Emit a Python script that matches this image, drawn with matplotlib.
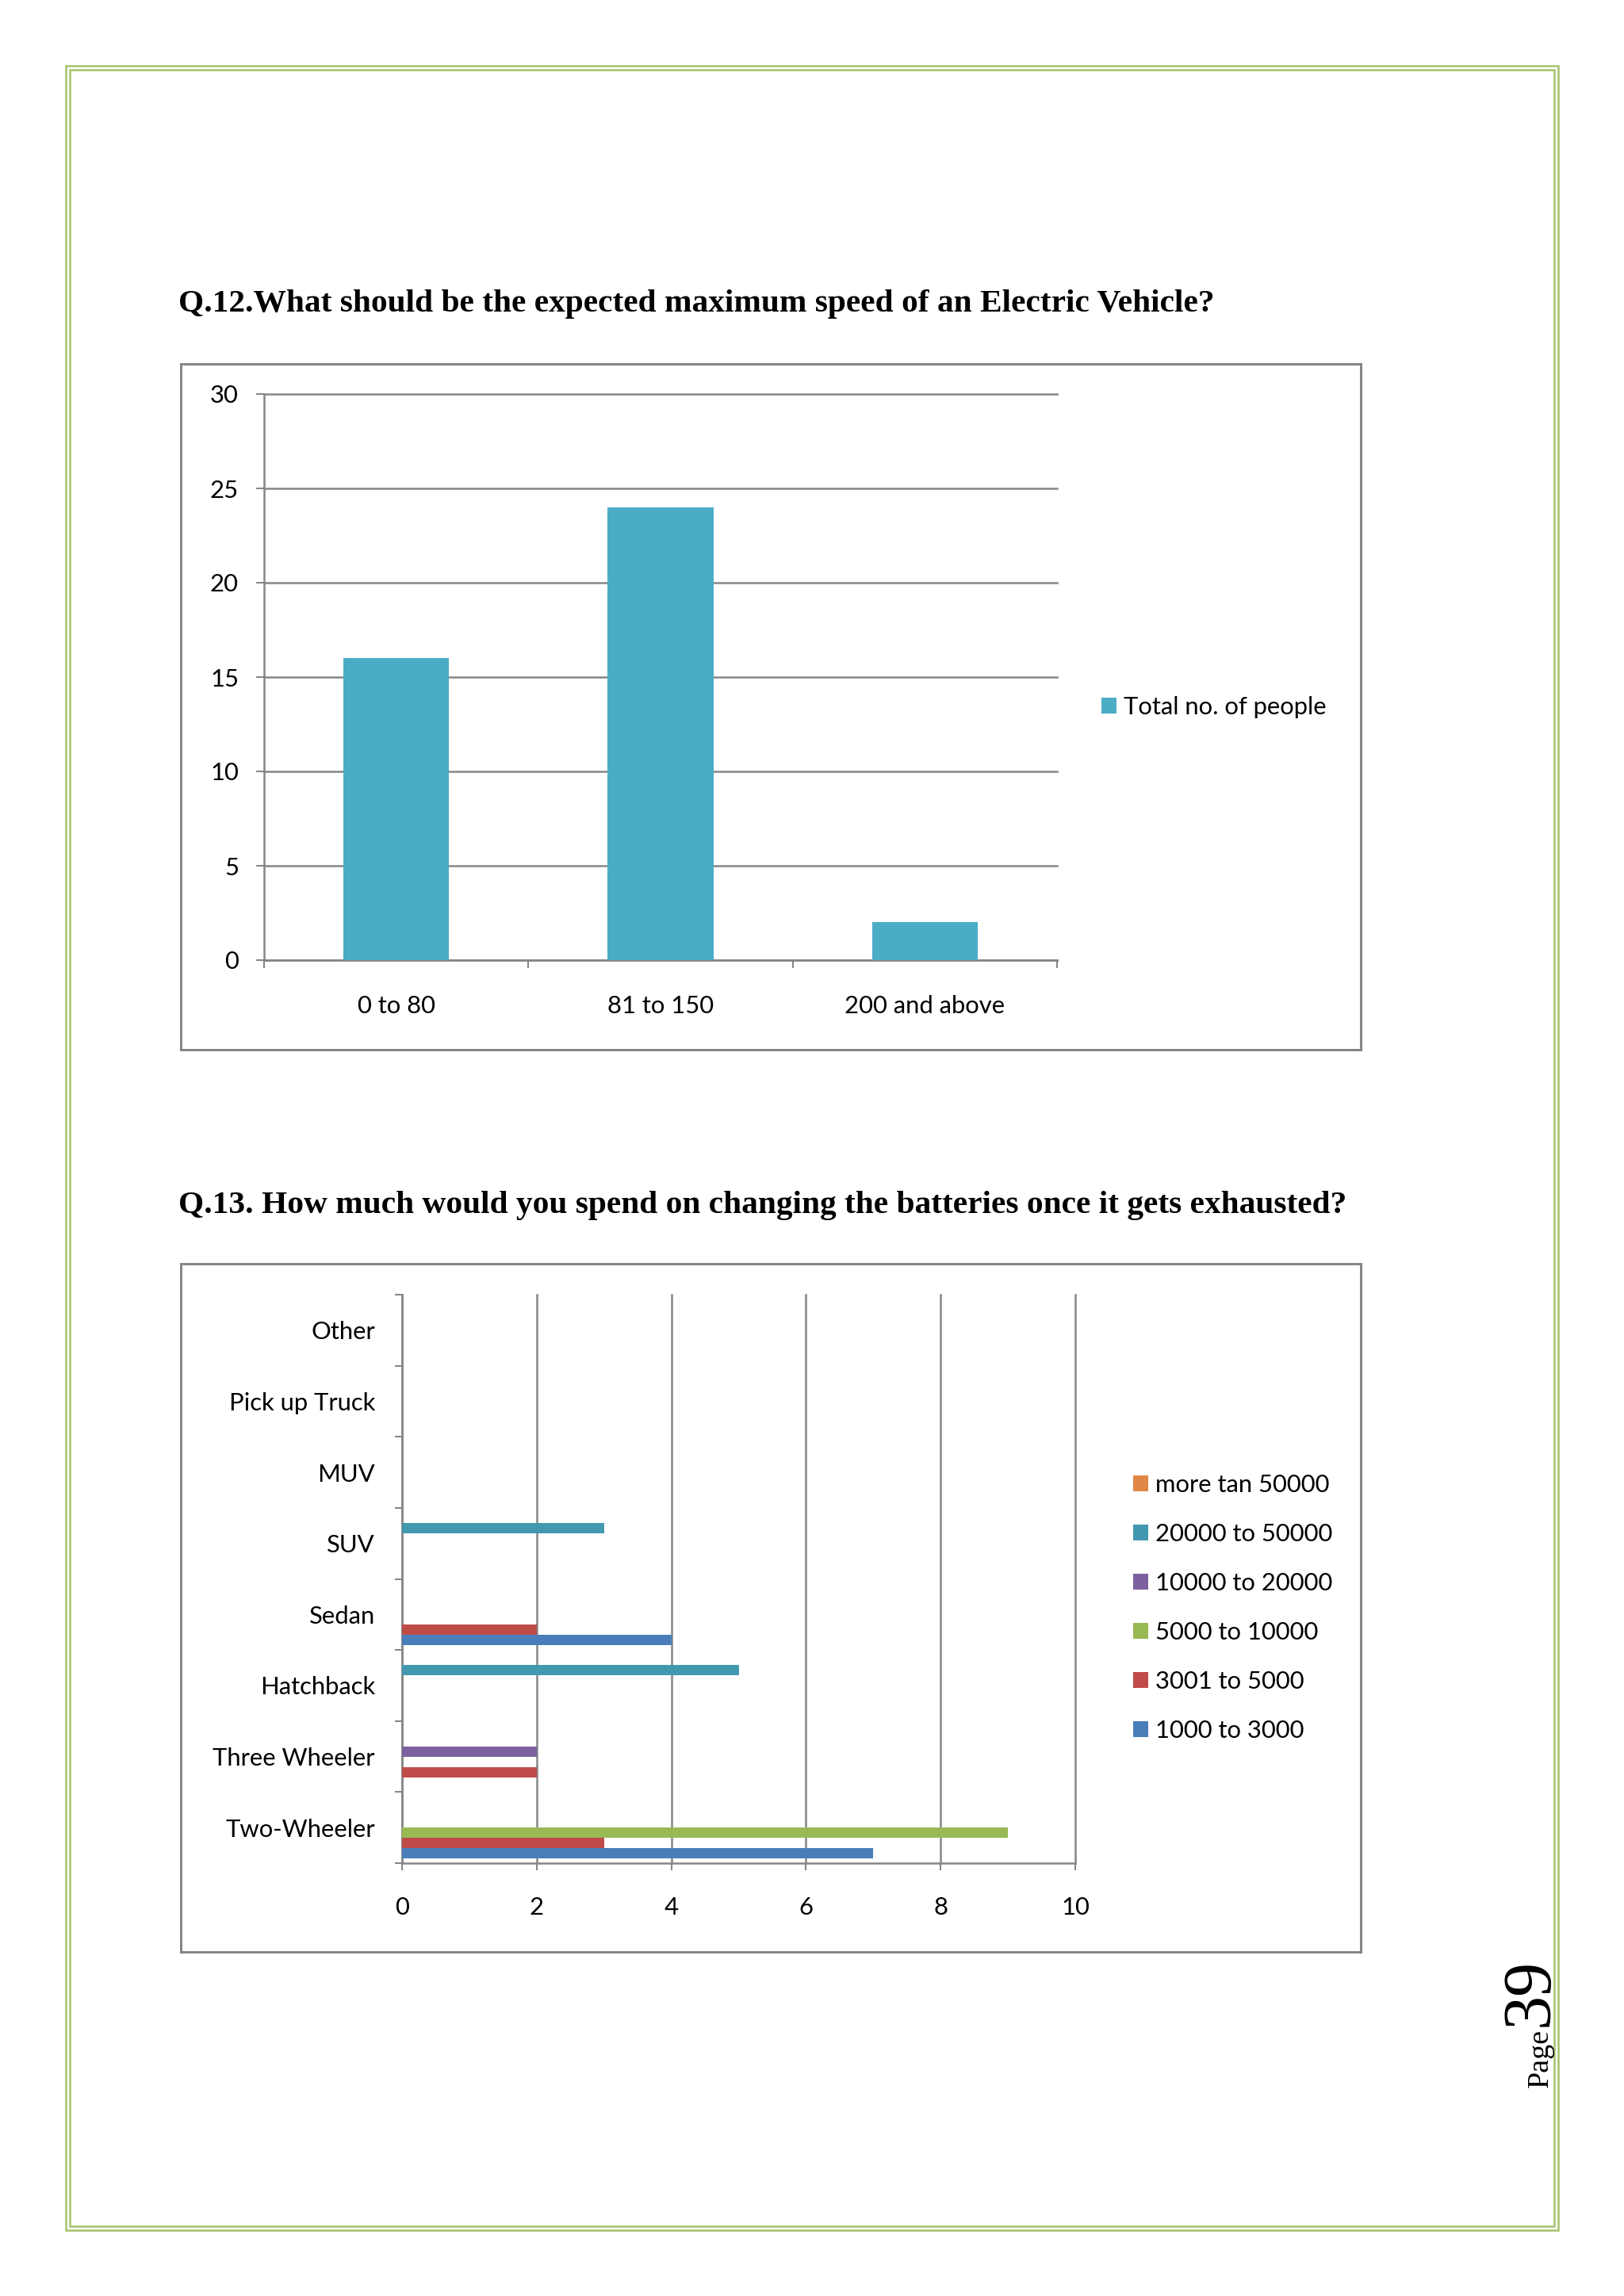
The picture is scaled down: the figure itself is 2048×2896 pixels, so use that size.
import matplotlib
matplotlib.use("Agg")
import matplotlib.pyplot as plt
from matplotlib.patches import Rectangle
import numpy as np

W, H = 2048, 2896
DPI = 100

# Q.12 data
speed_labels = ["0 to 80", "81 to 150", "200 and above"]
speed_counts = [16, 24, 2]
speed_series = "Total no. of people"

# Q.13 data (categories bottom to top, as in the chart)
vehicle_types = ["Two-Wheeler", "Three Wheeler", "Hatchback", "Sedan",
                 "SUV", "MUV", "Pick up Truck", "Other"]
spend_ranges = ["1000 to 3000", "3001 to 5000", "5000 to 10000",
                "10000 to 20000", "20000 to 50000", "more tan 50000"]
spend_1000_3000 = [7, 0, 0, 4, 0, 0, 0, 0]
spend_3001_5000 = [3, 2, 0, 2, 0, 0, 0, 0]
spend_5000_10000 = [9, 0, 0, 0, 0, 0, 0, 0]
spend_10000_20000 = [0, 2, 0, 0, 0, 0, 0, 0]
spend_20000_50000 = [0, 0, 5, 0, 3, 0, 0, 0]
spend_over_50000 = [0, 0, 0, 0, 0, 0, 0, 0]

SANS = "Lato"
SERIF = "Liberation Serif"
GRAY = "#868686"
GREEN_BORDER = "#A4C36A"
SPEED_COLOR = "#4BACC6"
SPEND_COLORS = ["#4A7EBB", "#BE4B48", "#98B954", "#7D60A0", "#4198AF", "#E08745"]


def pt(px):
    return px * 72 / DPI


def fx(x):
    return x / W


def fy(y):
    return 1 - y / H


fig = plt.figure(figsize=(W / DPI, H / DPI), dpi=DPI)
fig.patch.set_facecolor("white")


def axes_px(left, top, right, bottom):
    return fig.add_axes([fx(left), fy(bottom), (right - left) / W, (bottom - top) / H])


def box_px(left, top, right, bottom, color, lw):
    fig.patches.append(Rectangle((fx(left), fy(bottom)), (right - left) / W, (bottom - top) / H,
                                 transform=fig.transFigure, fill=False, edgecolor=color,
                                 linewidth=pt(lw), zorder=0))


# page border (double green line)
box_px(83, 83, 1965, 2813, GREEN_BORDER, 2.5)
box_px(88, 88, 1960, 2808, GREEN_BORDER, 2.5)

FS = pt(31)
TITLE_FS = pt(41.4)

fig.text(fx(225), fy(393), "Q.12.What should be the expected maximum speed of an Electric Vehicle?",
         fontsize=TITLE_FS, fontweight="bold", family=SERIF, va="baseline", ha="left")
fig.text(fx(225), fy(1530), "Q.13. How much would you spend on changing the batteries once it gets exhausted?",
         fontsize=TITLE_FS, fontweight="bold", family=SERIF, va="baseline", ha="left")

# chart frames
box_px(228, 459, 1716, 1324, GRAY, 3)
box_px(228, 1594, 1716, 2462, GRAY, 3)

# ---- Q.12 column chart ----
ax1 = axes_px(333, 497, 1333, 1211)
xpos = np.arange(len(speed_labels))
bars = ax1.bar(xpos, speed_counts, width=0.4, color=SPEED_COLOR, zorder=3, label=speed_series)
ax1.set_xlim(-0.5, len(speed_labels) - 0.5)
ax1.set_ylim(0, 30)
ax1.set_yticks(range(0, 31, 5))
ax1.set_yticklabels([str(v) for v in range(0, 31, 5)], fontsize=FS, family=SANS)
ax1.yaxis.grid(True, color=GRAY, linewidth=pt(2.5))
ax1.set_axisbelow(True)
ax1.set_xticks(np.arange(len(speed_labels) + 1) - 0.5)
ax1.set_xticklabels([])
ax1.set_xticks(xpos, minor=True)
ax1.set_xticklabels(speed_labels, minor=True, fontsize=FS, family=SANS)
ax1.tick_params(axis="x", which="major", direction="out", length=pt(10), width=pt(2), color=GRAY)
ax1.tick_params(axis="x", which="minor", length=0, pad=pt(44))
ax1.tick_params(axis="y", direction="out", length=pt(10), width=pt(2), color=GRAY, pad=pt(22))
for line in ax1.get_ygridlines():
    line.set_clip_on(False)
for s in ["top", "right"]:
    ax1.spines[s].set_visible(False)
for s in ["left", "bottom"]:
    ax1.spines[s].set_color(GRAY)
    ax1.spines[s].set_linewidth(pt(2.5))
fig.legend(handles=[bars], labels=[speed_series], loc="center left",
           bbox_to_anchor=(fx(1389), fy(892)), frameon=False, borderpad=0, borderaxespad=0,
           handlelength=0.6, handleheight=0.6, handletextpad=0.3,
           prop={"family": SANS, "size": FS})

# ---- Q.13 clustered bar chart ----
ax2 = axes_px(507, 1633, 1356, 2350)
series = [spend_1000_3000, spend_3001_5000, spend_5000_10000,
          spend_10000_20000, spend_20000_50000, spend_over_50000]
ypos = np.arange(len(vehicle_types)) + 0.5
h = 0.145
handles = []
for i, vals in enumerate(series):
    b = ax2.barh(ypos + (i - 2.5) * h, vals, height=h, color=SPEND_COLORS[i],
                 zorder=3, label=spend_ranges[i])
    handles.append(b)
ax2.set_xlim(0, 10)
ax2.set_ylim(0, len(vehicle_types))
ax2.set_xticks(range(0, 11, 2))
ax2.set_xticklabels([str(v) for v in range(0, 11, 2)], fontsize=FS, family=SANS)
ax2.xaxis.grid(True, color=GRAY, linewidth=pt(2.5))
ax2.set_axisbelow(True)
ax2.set_yticks(np.arange(len(vehicle_types) + 1))
ax2.set_yticklabels([])
ax2.set_yticks(ypos, minor=True)
ax2.set_yticklabels(vehicle_types, minor=True, fontsize=FS, family=SANS)
ax2.tick_params(axis="y", which="major", direction="out", length=pt(9), width=pt(2), color=GRAY)
ax2.tick_params(axis="y", which="minor", length=0, pad=pt(34))
ax2.tick_params(axis="x", direction="out", length=pt(9), width=pt(2), color=GRAY, pad=pt(33))
for line in ax2.get_xgridlines():
    line.set_clip_on(False)
for s in ["top", "right"]:
    ax2.spines[s].set_visible(False)
for s in ["left", "bottom"]:
    ax2.spines[s].set_color(GRAY)
    ax2.spines[s].set_linewidth(pt(2.5))
fig.legend(handles=handles[::-1], labels=spend_ranges[::-1], loc="center left",
           bbox_to_anchor=(fx(1429), fy(2028)), frameon=False, borderpad=0, borderaxespad=0,
           handlelength=0.6, handleheight=0.6, handletextpad=0.3, labelspacing=1.1,
           prop={"family": SANS, "size": FS})

# page number
fig.text(fx(1952), fy(2633), "Page", rotation=90, rotation_mode="anchor",
         ha="left", va="baseline", fontsize=pt(38), family=SERIF)
fig.text(fx(1952), fy(2556), "39", rotation=90, rotation_mode="anchor",
         ha="left", va="baseline", fontsize=pt(86), family=SERIF)

fig.savefig("out.png", dpi=DPI, facecolor="white")
